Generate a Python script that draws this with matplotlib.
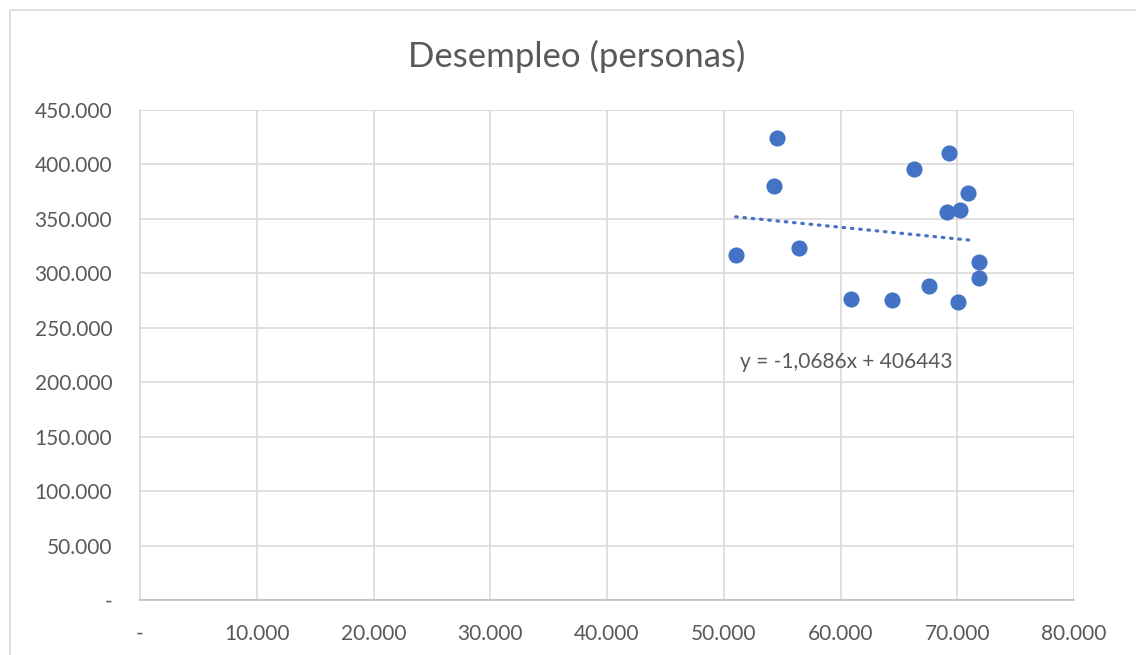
import matplotlib
matplotlib.use("Agg")
import matplotlib.pyplot as plt
from matplotlib.patches import Rectangle
from matplotlib.ticker import FuncFormatter, MultipleLocator

plt.rcParams["font.family"] = ["Lato", "DejaVu Sans"]

# datos
x_vals = [54560, 54280, 51020, 56470, 60930, 64380, 67550, 66320, 69320,
          70940, 69090, 70210, 71890, 71890, 70080]
y_vals = [424000, 380000, 316600, 323000, 276400, 275800, 288700, 396100, 410500,
          373800, 356600, 357900, 310700, 296000, 273400]
slope = -1.0686
intercept = 406443
eq_label = "y = -1,0686x + 406443"
title = "Desempleo (personas)"

grid_c = "#d9d9d9"
text_c = "#595959"
blue = "#4472C4"


def fmt(v, pos):
    if v == 0:
        return "-"
    return f"{v:,.0f}".replace(",", ".")


fig = plt.figure(figsize=(11.36, 6.55), dpi=100)
fig.patches.append(Rectangle((10 / 1136, -0.1), 1.2, 1.1 - 10 / 655,
                             transform=fig.transFigure, fill=False,
                             edgecolor=grid_c, lw=1.2))
ax = fig.add_axes([140 / 1136, 1 - 600 / 655, 934 / 1136, 490 / 655])

ax.scatter(x_vals, y_vals, s=135, color=blue, zorder=3, linewidths=0)
x0, x1 = min(x_vals), max(x_vals) - 350
ax.plot([x0, x1], [slope * x0 + intercept, slope * x1 + intercept],
        color=blue, lw=2.3, linestyle=(0, (0.5, 2.1)), dash_capstyle="round", zorder=2)
ax.text(60470, 218600, eq_label, ha="center", va="center", fontsize=15, color=text_c)

ax.set_xlim(0, 80000)
ax.set_ylim(0, 450000)
ax.xaxis.set_major_locator(MultipleLocator(10000))
ax.yaxis.set_major_locator(MultipleLocator(50000))
ax.xaxis.set_major_formatter(FuncFormatter(fmt))
ax.yaxis.set_major_formatter(FuncFormatter(fmt))
ax.grid(True, color=grid_c, lw=1.2)
ax.set_axisbelow(True)
for s in ["top", "right"]:
    ax.spines[s].set_visible(False)
for s in ["left", "bottom"]:
    ax.spines[s].set_color(grid_c)
    ax.spines[s].set_linewidth(1.2)
ax.spines["bottom"].set_color("#bfbfbf")
ax.tick_params(length=0, labelsize=15, labelcolor=text_c, pad=17)
ax.tick_params(axis="y", pad=20)
fig.text(577 / 1136, 1 - 56 / 655, title, ha="center", va="center",
         fontsize=25, color=text_c)

fig.savefig("out.png", dpi=100)
